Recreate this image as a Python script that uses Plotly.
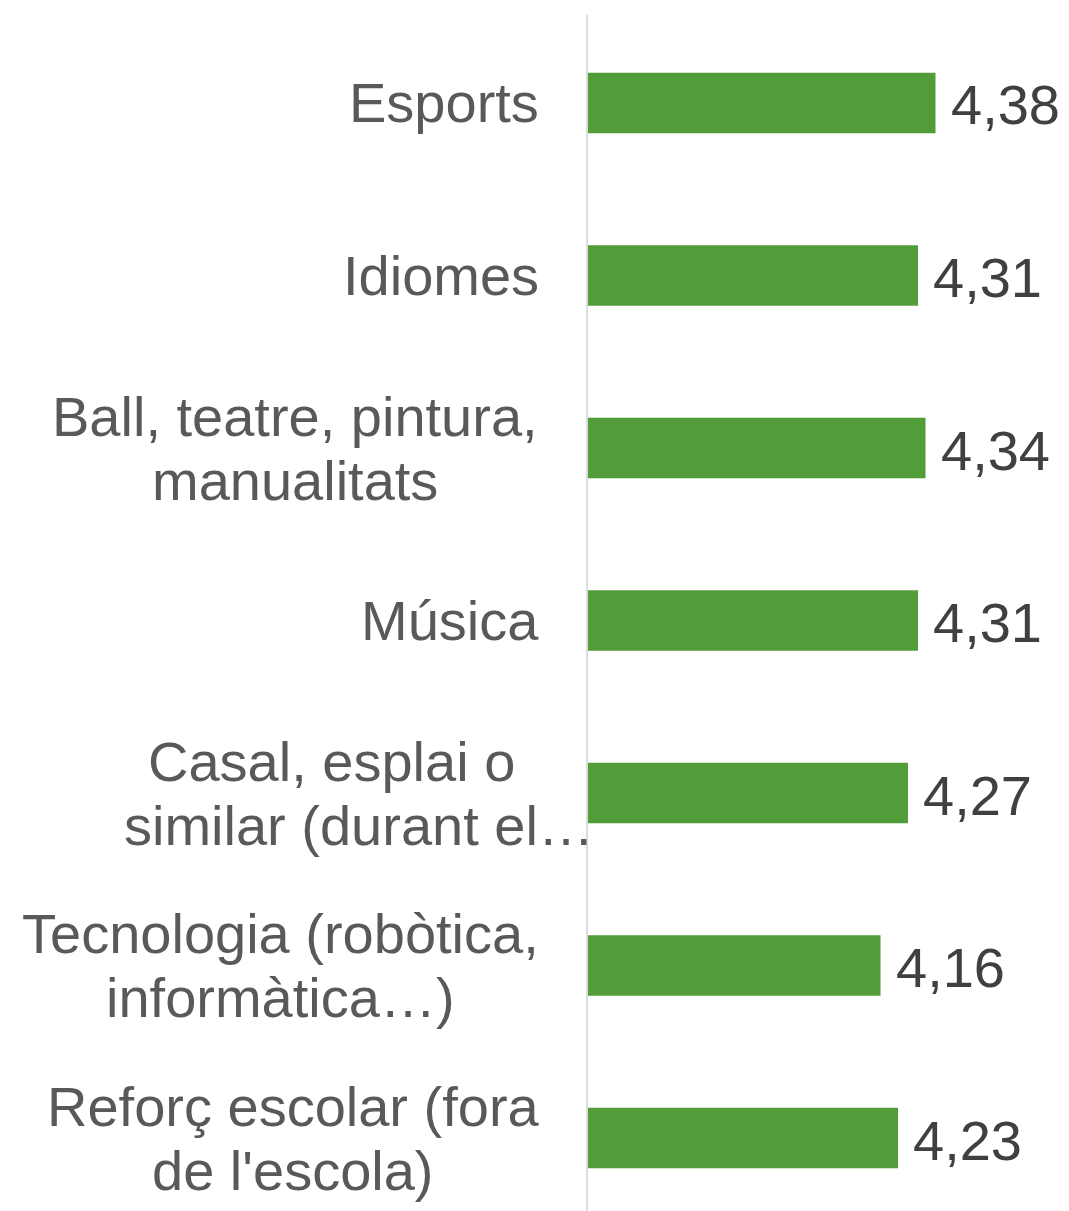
import plotly.graph_objects as go

# ---- data ----
categories = [
    "Esports",
    "Idiomes",
    "Ball, teatre, pintura, manualitats",
    "Música",
    "Casal, esplai o similar (durant el…",
    "Tecnologia (robòtica, informàtica…)",
    "Reforç escolar (fora de l'escola)",
]
label_lines = [
    ["Esports"],
    ["Idiomes"],
    ["Ball, teatre, pintura,", "manualitats"],
    ["Música"],
    ["Casal, esplai o", "similar (durant el…"],
    ["Tecnologia (robòtica,", "informàtica…)"],
    ["Reforç escolar (fora", "de l'escola)"],
]
values = [4.38, 4.31, 4.34, 4.31, 4.27, 4.16, 4.23]

# ---- style / layout ----
PAGE_OFF = 8              # default body margin of the html page
W, H = 1069 - PAGE_OFF, 1211 - PAGE_OFF
AXIS_PX = 588             # page x of the value axis start
ML, MR, MT, MB = AXIS_PX - PAGE_OFF, 0, 15 - PAGE_OFF, 0
PLOT_W = W - ML - MR
BAR_COLOR = "#529C3A"
LABEL_COLOR = "#595959"
VALUE_COLOR = "#404040"
FONT = "Liberation Sans, Arial, sans-serif"
FSIZE = 56
LINE_GAP = 64
# page-pixel centres of wrapped label lines (None -> right aligned)
line_centers = [
    None, None, [295, 295], None, [331, 359], [280, 280], [293, 293],
]
RIGHT_EDGE = 538

fig = go.Figure()
fig.add_trace(go.Bar(
    y=categories, x=values, orientation="h",
    marker=dict(color=BAR_COLOR, line=dict(width=0)),
    width=0.35, hoverinfo="skip",
))

ann = []
for i, (cat, lines, val) in enumerate(zip(categories, label_lines, values)):
    n = len(lines)
    for k, line in enumerate(lines):
        yshift = ((n - 1) / 2 - k) * LINE_GAP
        if line_centers[i] is None:
            ann.append(dict(xref="paper", yref="y", x=(RIGHT_EDGE - AXIS_PX) / PLOT_W, y=cat,
                            text=line, showarrow=False, xanchor="right", yanchor="middle",
                            xshift=3, yshift=yshift,
                            font=dict(family=FONT, size=FSIZE, color=LABEL_COLOR)))
        else:
            cx = line_centers[i][k]
            ann.append(dict(xref="paper", yref="y", x=(cx - AXIS_PX) / PLOT_W, y=cat,
                            text=line, showarrow=False, xanchor="center", yanchor="middle",
                            yshift=yshift,
                            font=dict(family=FONT, size=FSIZE, color=LABEL_COLOR)))
    ann.append(dict(xref="x", yref="y", x=val, y=cat,
                    text=f"{val:.2f}".replace(".", ","), showarrow=False,
                    xanchor="left", yanchor="middle", xshift=13, yshift=-2,
                    font=dict(family=FONT, size=FSIZE, color=VALUE_COLOR)))

x0 = 2.99
fig.update_layout(
    width=W, height=H,
    margin=dict(l=ML, r=MR, t=MT, b=MB, pad=0),
    paper_bgcolor="white", plot_bgcolor="white",
    showlegend=False,
    annotations=ann,
    xaxis=dict(range=[x0, x0 + PLOT_W / 250], visible=False, showgrid=False, zeroline=False),
    yaxis=dict(type="category", range=[6.423, -0.510], showticklabels=False,
               showgrid=False, zeroline=False, showline=True, linecolor="#dcdcdc",
               linewidth=2, ticks=""),
)

fig.write_html("out.html")
